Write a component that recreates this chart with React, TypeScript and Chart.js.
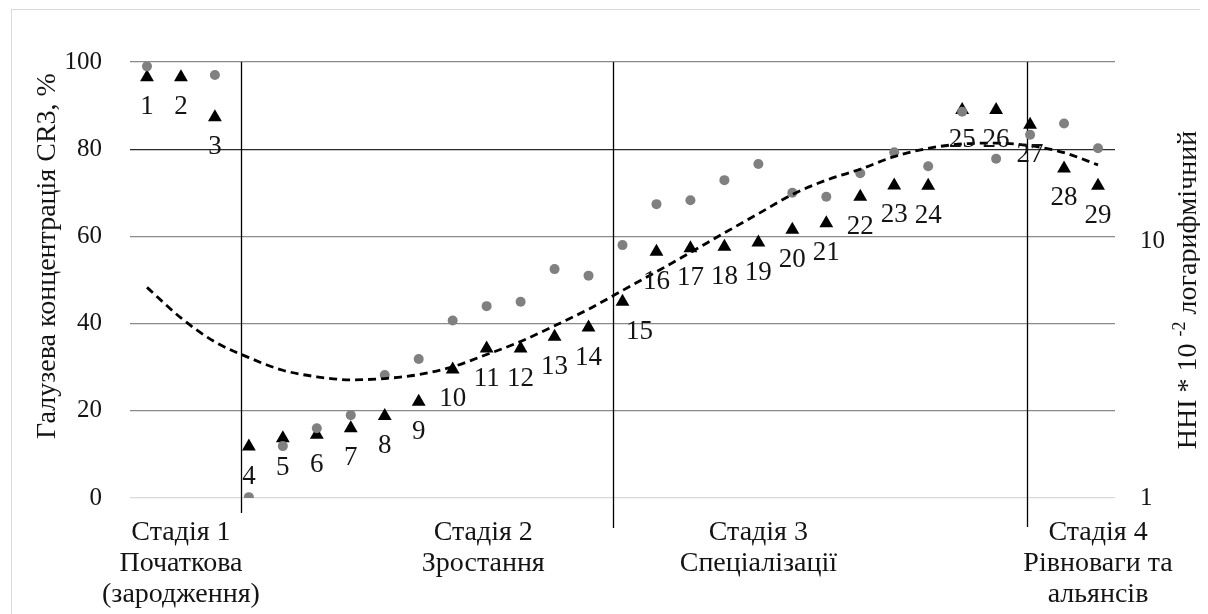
import { useEffect, useRef } from 'react';
import { Chart, registerables } from 'chart.js';

Chart.register(...registerables);

// Industry numbers (1..29) along the life-cycle axis
const pointNumbers = [
  1, 2, 3, 4, 5, 6, 7, 8, 9, 10, 11, 12, 13, 14, 15,
  16, 17, 18, 19, 20, 21, 22, 23, 24, 25, 26, 27, 28, 29,
];

// CR3 concentration, %
const cr3Values = [
  96.5, 96.5, 87.3, 11.8, 13.7, 14.5, 16.0, 18.8, 22.1, 29.5, 34.3, 34.3, 37.0, 39.1, 45.0,
  56.5, 57.3, 57.6, 58.6, 61.5, 63.0, 69.1, 71.7, 71.6, 89.0, 89.0, 85.6, 75.6, 71.6,
];

// HHI markers, placed on the percentage grid
const hhiValues: (number | null)[] = [
  99.0, null, 97.0, 0.2, 11.9, 16.0, 19.0, 28.2, 31.9, 40.7, 44.0, 45.0, 52.5, 51.0, 58.0,
  67.4, 68.3, 72.9, 76.6, 70.0, 69.1, 74.5, 79.3, 76.1, 88.6, 77.8, 83.3, 85.9, 80.2,
];

// Polynomial trend of concentration
const trendValues = [
  48.3, 41.3, 35.8, 32.2, 29.3, 27.8, 27.1, 27.4, 28.3, 30.1, 32.9, 35.9, 39.5, 43.3, 47.6,
  51.9, 56.3, 60.8, 65.2, 69.6, 72.9, 75.4, 78.3, 80.2, 81.2, 81.4, 80.8, 79.2, 76.4,
];

// Left axis ticks (%), right logarithmic axis ticks
const leftTicks = [0, 20, 40, 60, 80, 100];
const rightTicks = [1, 10];

// Stage boundaries and stage captions (positions in x-axis units)
const stageBounds = [3.77, 14.72, 26.9];
const stageBoundDrop = [15, 30, 29];
const stageCenters = [2.0, 10.9, 19.0, 29.0];
const stageLabels = [
  ['Стадія 1', 'Початкова', '(зародження)'],
  ['Стадія 2', 'Зростання'],
  ['Стадія 3', 'Спеціалізації'],
  ['Стадія 4', 'Рівноваги та', 'альянсів'],
];

const leftTitle = 'Галузева концентрація CR3, %';
const rightTitleParts = ['HHI * 10 ', '-2', ' логарифмічний'];

const SERIF = '"Liberation Serif", "Times New Roman", serif';
const TEXT = '#141414';

const W = 1192;
const H = 606;

const decorPlugin = {
  id: 'decor',
  beforeDraw(chart: any) {
    const { ctx } = chart;
    ctx.save();
    ctx.fillStyle = '#ffffff';
    ctx.fillRect(0, 0, chart.width, chart.height);
    ctx.strokeStyle = '#d9d9d9';
    ctx.lineWidth = 1;
    ctx.strokeRect(3.5, 1.5, chart.width + 20, chart.height + 20);
    ctx.restore();
  },
  beforeDatasetsDraw(chart: any) {
    const { ctx, chartArea } = chart;
    const xs = chart.scales.x;
    ctx.save();
    ctx.strokeStyle = '#000000';
    ctx.lineWidth = 1.3;
    stageBounds.forEach((v, i) => {
      const x = Math.round(xs.getPixelForValue(v)) + 0.5;
      ctx.beginPath();
      ctx.moveTo(x, chartArea.top);
      ctx.lineTo(x, chartArea.bottom + stageBoundDrop[i]);
      ctx.stroke();
    });
    ctx.restore();
  },
  afterDraw(chart: any) {
    const { ctx } = chart;
    const xs = chart.scales.x;
    const yl = chart.scales.y;
    const yr = chart.scales.yHHI;
    ctx.save();
    ctx.fillStyle = TEXT;

    // point numbers under the CR3 markers
    const meta = chart.getDatasetMeta(2);
    ctx.font = `27px ${SERIF}`;
    ctx.textAlign = 'center';
    ctx.textBaseline = 'middle';
    meta.data.forEach((el: any, i: number) => {
      const dx = pointNumbers[i] === 15 ? 17 : 0;
      ctx.fillText(String(pointNumbers[i]), el.x + dx, el.y + 30);
    });

    // left ticks
    ctx.font = `25px ${SERIF}`;
    ctx.textAlign = 'right';
    leftTicks.forEach((t) => {
      ctx.fillText(String(t), 94, yl.getPixelForValue(t));
    });

    // right logarithmic ticks
    ctx.textAlign = 'left';
    rightTicks.forEach((t) => {
      ctx.fillText(String(t), 1132, yr.getPixelForValue(t));
    });

    // stage captions
    ctx.font = `28px ${SERIF}`;
    ctx.textAlign = 'center';
    ctx.textBaseline = 'alphabetic';
    stageLabels.forEach((lines, i) => {
      const x = xs.getPixelForValue(stageCenters[i]);
      lines.forEach((line, j) => {
        ctx.fillText(line, x, 532 + j * 31);
      });
    });

    // left axis title
    ctx.save();
    ctx.translate(40, 248);
    ctx.rotate(-Math.PI / 2);
    ctx.font = `28px ${SERIF}`;
    ctx.textAlign = 'center';
    ctx.textBaseline = 'middle';
    ctx.fillText(leftTitle, 0, 0);
    ctx.restore();

    // right axis title with superscript
    ctx.save();
    ctx.translate(1181, 282);
    ctx.rotate(-Math.PI / 2);
    ctx.textBaseline = 'middle';
    ctx.textAlign = 'left';
    const fonts = [`28px ${SERIF}`, `18px ${SERIF}`, `28px ${SERIF}`];
    const shifts = [0, -9, 0];
    let total = 0;
    const widths = rightTitleParts.map((p, k) => {
      ctx.font = fonts[k];
      const w = ctx.measureText(p).width;
      total += w;
      return w;
    });
    let cx = -total / 2;
    rightTitleParts.forEach((p, k) => {
      ctx.font = fonts[k];
      ctx.fillText(p, cx, shifts[k]);
      cx += widths[k];
    });
    ctx.restore();

    ctx.restore();
  },
};

export default function App() {
  const canvasRef = useRef<HTMLCanvasElement | null>(null);

  useEffect(() => {
    const canvas = canvasRef.current;
    if (!canvas) return;
    const chart = new Chart(canvas, {
      type: 'scatter',
      data: {
        datasets: [
          {
            label: 'Тренд',
            data: pointNumbers.map((n, i) => ({ x: n, y: trendValues[i] })),
            showLine: true,
            borderColor: '#000000',
            borderWidth: 2.8,
            borderDash: [8, 5],
            pointRadius: 0,
            cubicInterpolationMode: 'monotone',
            fill: false,
            yAxisID: 'y',
          },
          {
            label: 'HHI',
            data: pointNumbers.map((n, i) => ({ x: n, y: hhiValues[i] })),
            showLine: false,
            pointStyle: 'circle',
            pointRadius: 5,
            backgroundColor: '#808080',
            borderColor: '#808080',
            borderWidth: 0,
            yAxisID: 'y',
          },
          {
            label: 'CR3',
            data: pointNumbers.map((n, i) => ({ x: n, y: cr3Values[i] })),
            showLine: false,
            pointStyle: 'triangle',
            pointRadius: 8,
            backgroundColor: '#000000',
            borderColor: '#000000',
            borderWidth: 0,
            yAxisID: 'y',
          },
        ],
      },
      options: {
        responsive: false,
        animation: false,
        events: [],
        layout: { padding: { left: 122, right: W - 1107, top: 54, bottom: H - 490 } },
        plugins: {
          legend: { display: false },
          tooltip: { enabled: false },
          title: { display: false },
        },
        scales: {
          x: {
            type: 'linear',
            min: 0.5,
            max: 29.5,
            display: false,
          },
          y: {
            type: 'linear',
            position: 'left',
            min: 0,
            max: 100,
            ticks: { display: false, stepSize: 20 },
            border: { display: false },
            grid: {
              drawTicks: false,
              lineWidth: 1.2,
              color: (c: any) =>
                c.tick && c.tick.value === 0
                  ? '#d9d9d9'
                  : c.tick && c.tick.value === 80
                  ? '#2a2a2a'
                  : '#8a8a8a',
            },
          },
          yHHI: {
            type: 'logarithmic',
            position: 'right',
            min: 1,
            max: 50,
            display: false,
          },
        },
      },
      plugins: [decorPlugin],
    });
    return () => chart.destroy();
  }, []);

  return (
    <div style={{ width: W, height: H }}>
      <canvas ref={canvasRef} width={W} height={H} style={{ display: 'block' }} />
    </div>
  );
}
